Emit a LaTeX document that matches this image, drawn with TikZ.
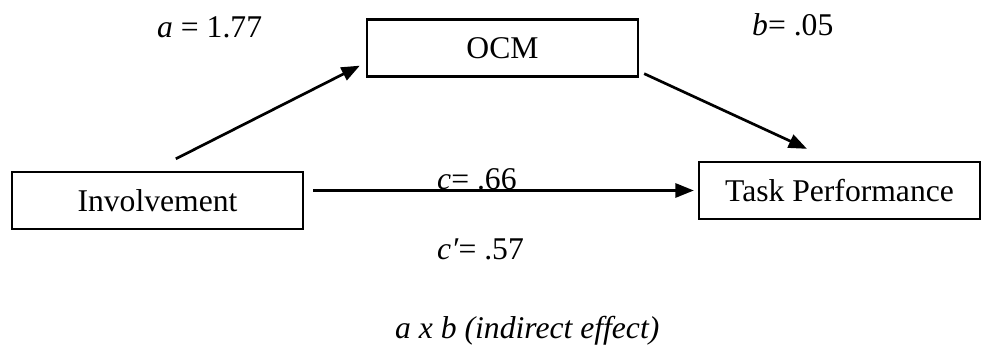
\documentclass[tikz,border=0pt]{standalone}
\usepackage{fontspec}
\setmainfont{Liberation Serif}
\usepackage{tikz}
\usetikzlibrary{arrows.meta,positioning,calc}

\begin{document}
\begin{tikzpicture}[
  x=0.03cm, y=-0.03cm,
  block/.style={rectangle, draw, line width=2pt, minimum width=#1,
                minimum height=1.71cm, text centered, inner sep=0pt,
                font=\fontsize{27}{31}\selectfont},
  block/.default={8.73cm},
  arrow/.style={-{Triangle[length=0.55cm, width=0.42cm]}, line width=2.3pt},
  coef/.style={anchor=base west, inner sep=0pt, font=\fontsize{27}{31}\selectfont}
]
  \useasboundingbox (0,0) rectangle (982,349);

  \node[block=8.73cm] (inv) at (157.5,200.5) {Involvement};
  \node[block=8.13cm] (ocm) at (502.5,48) {OCM};
  \node[block=8.43cm] (task) at (839.5,190.5) {Task Performance};

  \draw[arrow] ([xshift=0.55cm, yshift=0.36cm]inv.north) -- ([xshift=-0.18cm, yshift=0.36cm]ocm.south west);
  \draw[arrow] ([xshift=0.15cm, yshift=0.12cm]ocm.south east) -- ([xshift=-0.975cm, yshift=0.36cm]task.north);
  \draw[arrow] ([xshift=0.27cm]inv.east |- task.west) -- ([xshift=-0.12cm]task.west);

  \node[coef] (la) at (157,38) {\textit{a} = 1.77};
  \node[coef] (lb) at (752,36) {\textit{b}= .05};
  \node[coef] (lc) at (437,190) {\textit{c}= .66};
  \node[coef] (lcp) at (437,260) {\textit{c′}= .57};
  \node[coef] (lab) at (395,339) {\textit{a x b (indirect effect)}};
\end{tikzpicture}
\end{document}
